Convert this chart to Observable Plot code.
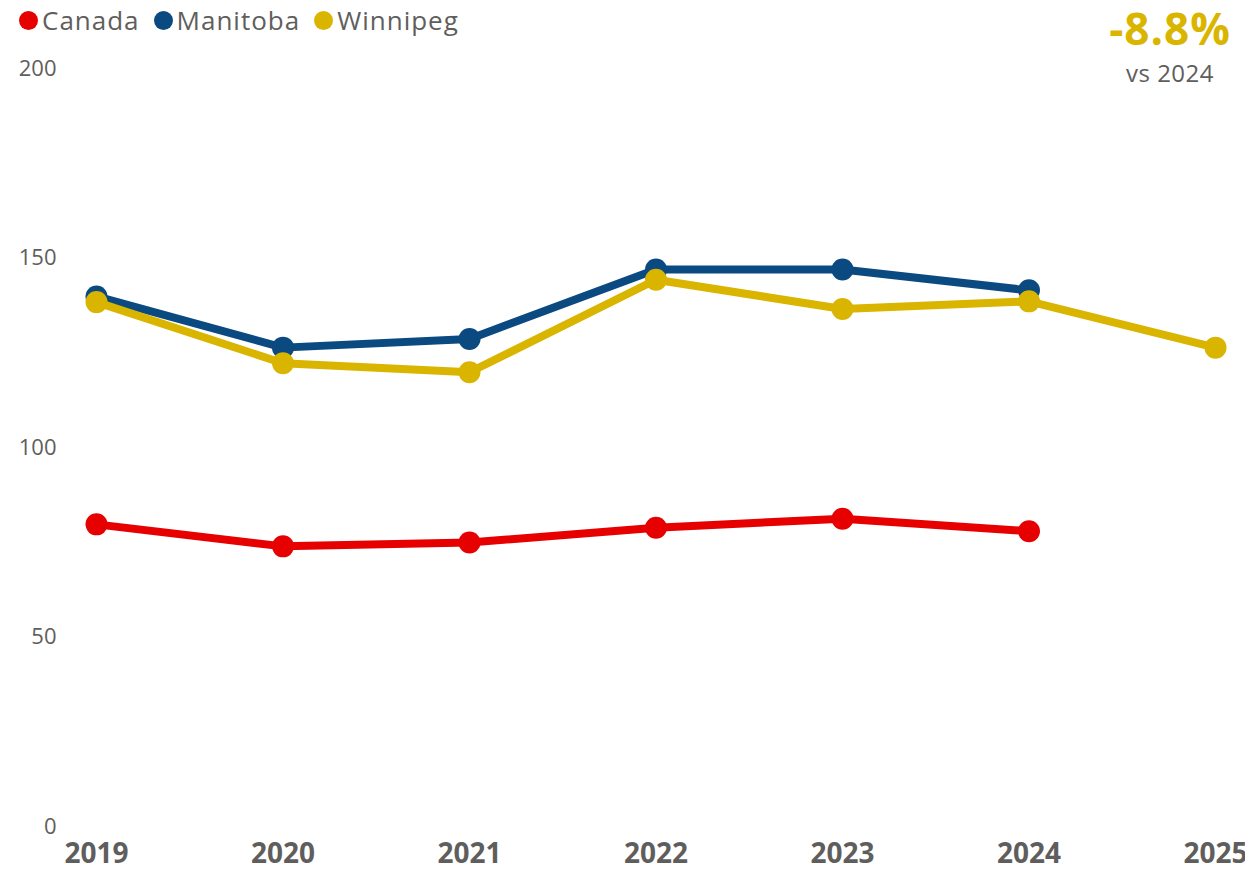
<!DOCTYPE html>
<html>
<head>
<meta charset="utf-8">
<script src="https://cdn.jsdelivr.net/npm/d3@7"></script>
<script src="https://cdn.jsdelivr.net/npm/@observablehq/plot@0.6"></script>
<style>
  html, body { margin: 0; padding: 0; background: #fff; }
  body { width: 1245px; height: 873px; overflow: hidden; font-family: "Segoe UI", "Open Sans", sans-serif; }
  #wrap { position: relative; width: 1245px; height: 873px; }
  #chart { position: absolute; left: 0; top: 0; }
  #legend { position: absolute; left: 19px; top: 2px; display: flex; align-items: center; font-size: 26px; letter-spacing: 1px; color: #605E5C; }
  .item { display: flex; align-items: center; margin-right: 14px; }
  .sw { width: 19px; height: 19px; border-radius: 50%; margin-right: 4px; }
  #kpi { position: absolute; left: 1070px; width: 200px; top: 0; text-align: center; }
  #kpiVal { font-size: 44px; font-weight: 700; line-height: 56px; letter-spacing: 1px; }
  #kpiSub { font-size: 24px; color: #605E5C; line-height: 30px; margin-top: 2px; letter-spacing: 0.5px; }
</style>
</head>
<body>
<div id="wrap">
  <div id="chart"></div>
  <div id="legend"></div>
  <div id="kpi"><div id="kpiVal"></div><div id="kpiSub"></div></div>
</div>
<script>
const years = [2019, 2020, 2021, 2022, 2023, 2024, 2025];
const canada = [79.8, 74.0, 75.0, 78.9, 81.3, 78.0];
const manitoba = [139.9, 126.4, 128.7, 147.0, 147.0, 141.5];
const winnipeg = [138.4, 122.3, 119.9, 144.3, 136.6, 138.6, 126.4];
const seriesNames = ["Canada", "Manitoba", "Winnipeg"];
const seriesColors = ["#E60000", "#0A4A80", "#DAB500"];
const yTicks = [0, 50, 100, 150, 200];
const compareLabel = "vs 2024";

const seriesValues = [canada, manitoba, winnipeg];
const rows = seriesNames.map((name, i) =>
  seriesValues[i].map((v, j) => ({series: name, year: years[j], value: v}))
);

const marks = [];
rows.forEach((data, i) => {
  marks.push(Plot.lineY(data, {x: "year", y: "value", stroke: seriesColors[i], strokeWidth: 8, strokeLinejoin: "round"}));
  marks.push(Plot.dot(data, {x: "year", y: "value", r: 11, fill: seriesColors[i], stroke: "none"}));
});

const chart = Plot.plot({
  width: 1245,
  height: 873,
  marginTop: 68,
  marginBottom: 46.5,
  marginLeft: 96,
  marginRight: 30,
  style: {fontFamily: "'Segoe UI', 'Open Sans', sans-serif", background: "transparent", overflow: "hidden"},
  x: {domain: [2019, 2025]},
  y: {domain: [0, 200]},
  marks: [
    Plot.axisY({ticks: yTicks, tickSize: 0, tickPadding: 40, fontSize: 22, color: "#605E5C", label: null}),
    Plot.axisX({ticks: years, tickFormat: d => String(d), tickSize: 0, tickPadding: 16, fontSize: 28, fontWeight: "bold", color: "#605E5C", label: null}),
    ...marks
  ]
});
document.getElementById("chart").appendChild(chart);

const legend = document.getElementById("legend");
seriesNames.forEach((name, i) => {
  const it = document.createElement("div");
  it.className = "item";
  const sw = document.createElement("div");
  sw.className = "sw";
  sw.style.background = seriesColors[i];
  const t = document.createElement("span");
  t.textContent = name;
  it.appendChild(sw); it.appendChild(t);
  legend.appendChild(it);
});

const last = winnipeg[winnipeg.length - 1];
const prev = winnipeg[winnipeg.length - 2];
const pct = (last / prev - 1) * 100;
const kv = document.getElementById("kpiVal");
kv.textContent = (pct < 0 ? "-" : "+") + Math.abs(pct).toFixed(1) + "%";
kv.style.color = seriesColors[2];
document.getElementById("kpiSub").textContent = compareLabel;
</script>
</body>
</html>
